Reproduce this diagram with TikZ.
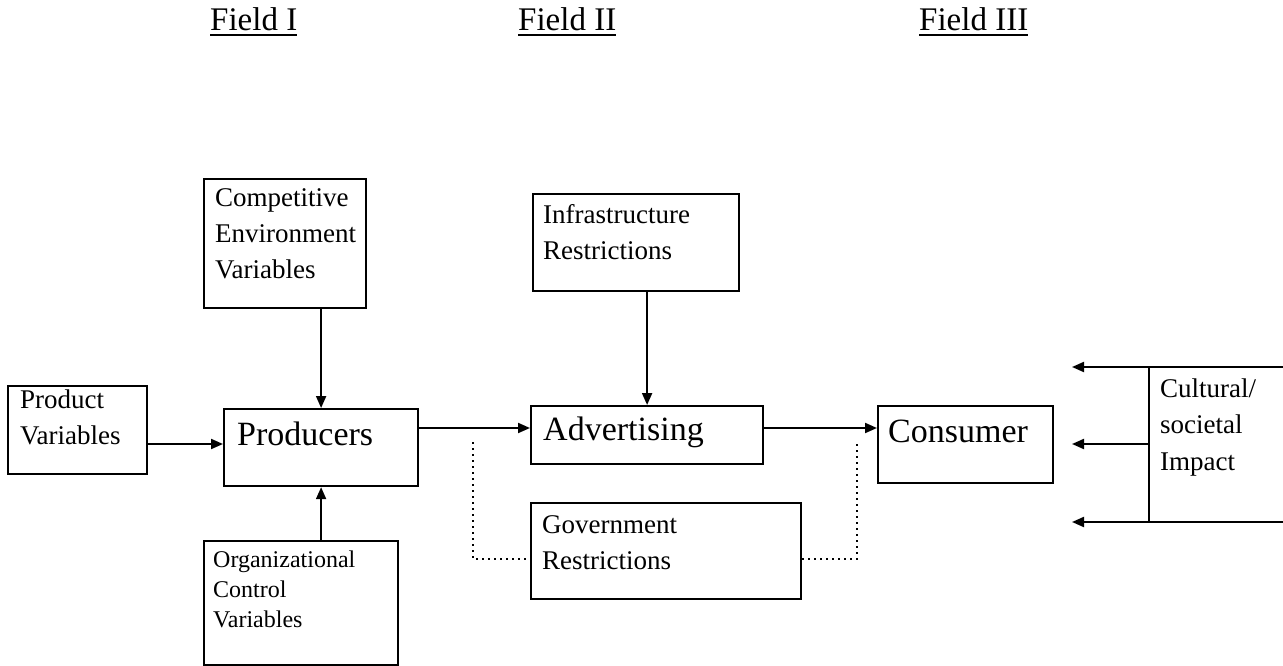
\documentclass[tikz,border=0pt]{standalone}
\usepackage{fontspec}
\setmainfont{Liberation Serif}
\usetikzlibrary{arrows.meta}
% left-aligned stack of lines whose reference point is the first baseline
\newcommand\stack[1]{\vtop{\halign{##\hfil\cr#1\crcr}}}
% underlined heading
\newcommand\ulfield[1]{\vtop{\hbox{#1}\kern3pt\hrule height 2pt}}
\begin{document}
\begin{tikzpicture}[x=1pt,y=-1pt,
  frame/.style={draw, line width=2.2pt, inner sep=0pt, anchor=north west},
  lbl/.style={inner sep=0pt, anchor=base west},
  big/.style={font=\fontsize{34}{40}\selectfont},
  mid/.style={font=\fontsize{27}{36.5}\selectfont},
  sml/.style={font=\fontsize{24}{30}\selectfont},
  head/.style={font=\fontsize{33}{40}\selectfont},
  arr/.style={line width=2pt, -{Triangle[length=12pt,width=10pt]}},
  plain/.style={line width=2pt},
  dotline/.style={line width=1.6pt, dash pattern=on 2pt off 4pt}]
\useasboundingbox (0,0) rectangle (1283,666);

% headings
\node[lbl, head] (f1) at (210,31) {\ulfield{Field I}};
\node[lbl, head] (f2) at (518,31) {\ulfield{Field II}};
\node[lbl, head] (f3) at (919,31) {\ulfield{Field III}};

% boxes
\node[frame, minimum width=162, minimum height=129] (comp)  at (203,178) {};
\node[frame, minimum width=139, minimum height=88]  (pv)    at (7,385)   {};
\node[frame, minimum width=194, minimum height=77]  (prod)  at (223,408) {};
\node[frame, minimum width=194, minimum height=124] (org)   at (203,540) {};
\node[frame, minimum width=206, minimum height=97]  (infra) at (532,193) {};
\node[frame, minimum width=232, minimum height=58]  (adv)   at (530,405) {};
\node[frame, minimum width=270, minimum height=96]  (gov)   at (530,502) {};
\node[frame, minimum width=175, minimum height=77]  (cons)  at (877,405) {};

% box texts
\node[lbl, mid] (comp-t)  at (215,206) {\stack{Competitive\cr Environment\cr Variables}};
\node[lbl, mid] (pv-t)    at (20,408)  {\stack{Product\cr Variables}};
\node[lbl, big] (prod-t)  at (237,445) {Producers};
\node[lbl, sml] (org-t)   at (213,567) {\stack{Organizational\cr Control\cr Variables}};
\node[lbl, mid] (infra-t) at (543,223) {\stack{Infrastructure\cr Restrictions}};
\node[lbl, big] (adv-t)   at (543,440) {Advertising};
\node[lbl, mid] (gov-t)   at (542,533) {\stack{Government\cr Restrictions}};
\node[lbl, big] (cons-t)  at (888,442) {Consumer};
\node[lbl, mid] (cult-t)  at (1160,397) {\stack{Cultural/\cr societal\cr Impact}};

% reference levels
\coordinate (mainrow) at (0,428);
\coordinate (pvrow)   at (0,444);
\coordinate (dotrow)  at (0,559);
\coordinate (dlt) at (473,442);
\coordinate (drt) at (857,442);

% flows
\draw[arr] (pv.east |- pvrow) -- (prod.west |- pvrow);
\draw[arr] (comp.south -| prod.north) -- (prod.north);
\draw[arr] (org.north -| prod.south) -- (prod.south);
\draw[arr] (prod.east |- mainrow) -- (adv.west |- mainrow);
\draw[arr] (infra.south -| adv.north) -- (adv.north);
\draw[arr] (adv.east |- mainrow) -- (cons.west |- mainrow);

% government restrictions
\draw[dotline] (dlt) |- (gov.west |- dotrow);
\draw[dotline] (gov.east |- dotrow) -| (drt);

% cultural / societal impact
\coordinate (ct-r) at (1285,367);
\coordinate (ct-l) at (1072,367);
\coordinate (cb-r) at (1285,522);
\coordinate (cb-l) at (1072,522);
\coordinate (cv-t) at (1149,367);
\coordinate (cv-b) at (1149,522);
\coordinate (cm-r) at (1149,444);
\coordinate (cm-l) at (1072,444);
\draw[plain] (cv-t) -- (cv-b);
\draw[arr] (ct-r) -- (ct-l);
\draw[arr] (cb-r) -- (cb-l);
\draw[arr] (cm-r) -- (cm-l);
\end{tikzpicture}
\end{document}
